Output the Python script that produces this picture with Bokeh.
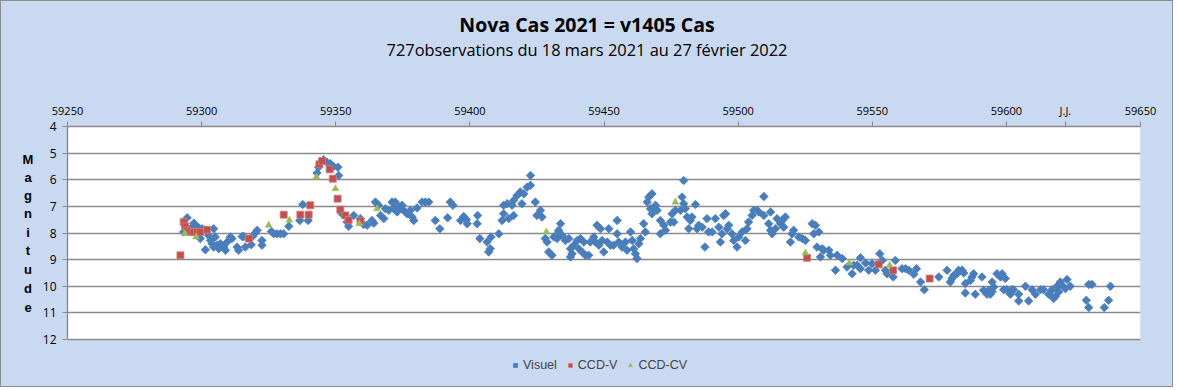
from bokeh.plotting import figure
from bokeh.models import (Range1d, Legend, LegendItem, FixedTicker, ColumnDataSource,
                          BoxAnnotation, Div)
from bokeh.layouts import column, row
from bokeh.embed import file_html
from bokeh.resources import INLINE

# ---------------- data (Julian Day, magnitude) ----------------
vis_jd_a = [59293.3, 59293.9, 59294.6, 59295.8, 59296.4, 59297.1, 59297.7, 59298.9,
            59300.2, 59301.4, 59299.5, 59301.4, 59302.6, 59303.3, 59303.9, 59304.5,
            59304.5, 59305.1, 59305.8, 59306.4, 59307.0, 59308.2, 59308.9, 59309.5,
            59310.7, 59311.3, 59313.2, 59313.8, 59315.1, 59315.7, 59316.3, 59318.5,
            59319.0, 59320.0, 59320.7, 59322.5, 59322.5, 59326.0, 59326.9, 59328.1,
            59329.4, 59330.6, 59332.5, 59336.6, 59337.7, 59339.7, 59343.0, 59343.6,
            59345.5, 59346.7, 59348.0, 59349.2, 59350.8, 59351.1, 59352.3, 59354.2,
            59354.8, 59356.7, 59359.2, 59360.4]
vis_mag_a = [7.96, 7.78, 7.43, 7.84, 7.96, 7.63, 7.71, 7.80,
             7.84, 7.90, 8.21, 8.63, 8.09, 8.28, 8.40, 7.84,
             8.53, 8.15, 8.46, 8.59, 8.40, 8.53, 8.65, 8.34,
             8.15, 8.21, 8.53, 8.65, 8.13, 8.13, 8.53, 8.44,
             8.13, 8.00, 7.90, 8.28, 8.46, 7.94, 8.03, 8.03,
             8.03, 8.03, 7.75, 7.53, 6.93, 7.53, 5.75, 5.53,
             5.25, 5.34, 5.40, 5.50, 5.53, 5.84, 7.28, 7.59,
             7.75, 7.34, 7.46, 7.68]

vis_jd_b = [59361.7, 59363.5, 59364.2, 59364.8, 59366.0, 59366.7, 59367.9, 59368.5,
            59369.8, 59371.0, 59371.6, 59372.2, 59372.9, 59373.5, 59374.7, 59375.3,
            59376.6, 59377.8, 59378.5, 59379.1, 59380.3, 59382.2, 59383.4, 59384.7,
            59387.1, 59388.8, 59391.7, 59392.7, 59393.7, 59396.5, 59397.7, 59398.7,
            59399.0, 59402.9, 59402.7, 59403.7, 59406.4, 59407.0, 59407.9, 59407.6,
            59410.8, 59412.0, 59412.6, 59412.6, 59413.9, 59414.5, 59415.7, 59416.3,
            59416.3, 59417.6, 59418.8, 59419.4, 59420.1, 59421.3, 59422.6, 59422.6,
            59424.4, 59425.0, 59426.3, 59426.9, 59428.1, 59428.8, 59429.4, 59430.6,
            59431.3, 59433.1]
vis_mag_b = [7.71, 7.53, 7.63, 6.84, 6.96, 7.34, 7.46, 7.09,
             7.15, 6.84, 7.09, 6.84, 7.21, 7.03, 6.96, 7.15,
             7.28, 7.15, 7.40, 7.53, 7.06, 6.84, 6.84, 6.84,
             7.53, 7.84, 7.43, 6.84, 6.96, 7.53, 7.38, 7.50,
             7.65, 7.34, 7.65, 8.21, 8.34, 8.71, 8.15, 8.59,
             8.03, 7.53, 7.28, 6.96, 6.90, 7.46, 6.96, 7.34,
             6.78, 6.59, 6.46, 6.90, 6.53, 6.28, 6.21, 5.84,
             6.84, 7.34, 7.15, 7.40, 8.21, 8.34, 8.71, 8.84,
             8.15, 7.96]

vis_jd_c = [59433.8, 59433.1, 59432.5, 59434.4, 59435.6, 59436.9, 59437.5, 59438.1,
            59437.5, 59438.7, 59440.0, 59440.6, 59441.2, 59441.8, 59442.5, 59443.1,
            59444.3, 59444.9, 59446.2, 59446.8, 59447.4, 59448.1, 59448.7, 59449.3,
            59449.9, 59451.2, 59451.8, 59452.4, 59453.6, 59454.9, 59454.9, 59455.5,
            59456.7, 59458.0, 59458.6, 59459.9, 59460.5, 59461.1, 59461.7, 59462.3,
            59463.0, 59463.6, 59464.8, 59465.4, 59466.1, 59466.7, 59467.9, 59467.3,
            59467.9, 59469.2, 59469.8, 59471.0, 59471.0, 59472.3, 59472.9, 59474.8,
            59475.4, 59476.0, 59476.6, 59478.5, 59479.1, 59479.7, 59479.7, 59480.3,
            59481.0, 59481.6, 59482.2, 59482.8, 59484.1, 59484.7, 59485.3, 59486.6,
            59487.6, 59488.4, 59489.0, 59490.3, 59491.5, 59492.8, 59493.4, 59494.0,
            59494.6, 59495.3, 59495.9, 59496.5, 59497.7, 59498.4, 59499.6, 59500.2,
            59501.5, 59502.7, 59503.3, 59503.9, 59505.2, 59505.8]
vis_mag_c = [7.65, 7.90, 8.21, 8.09, 8.28, 8.21, 8.59, 8.78,
             8.90, 8.46, 8.28, 8.59, 8.21, 8.71, 8.34, 8.84,
             8.84, 8.34, 8.15, 8.34, 7.71, 8.46, 7.84, 8.28,
             8.71, 8.34, 7.84, 8.46, 8.46, 7.53, 8.03, 8.34,
             8.53, 8.34, 8.65, 7.96, 8.28, 8.59, 8.78, 8.96,
             8.40, 8.21, 7.65, 7.96, 6.84, 6.65, 6.53, 7.09,
             7.28, 6.96, 7.15, 7.53, 8.03, 7.71, 7.90, 7.59,
             7.28, 7.59, 7.15, 7.15, 6.65, 6.03, 6.90, 7.09,
             7.40, 7.84, 7.53, 7.40, 6.93, 7.84, 7.71, 7.78,
             8.53, 7.46, 7.96, 7.96, 7.46, 7.78, 8.34, 8.03,
             7.34, 7.28, 7.84, 7.71, 8.03, 8.28, 8.53, 8.15,
             7.96, 8.28, 7.84, 7.59, 7.34, 7.15]

vis_jd_d = [59507.1, 59507.7, 59509.6, 59509.6, 59511.4, 59512.1, 59512.1, 59512.7,
            59513.9, 59514.5, 59515.8, 59516.4, 59517.0, 59517.6, 59519.5, 59520.1,
            59520.7, 59522.6, 59523.9, 59525.1, 59527.6, 59528.2, 59528.8, 59529.4,
            59530.1, 59530.7, 59531.3, 59531.9, 59533.8, 59534.4, 59536.3, 59536.9,
            59538.8, 59540.6, 59542.5, 59543.1, 59544.4, 59545.6, 59545.6, 59547.5,
            59548.7, 59549.9, 59551.2, 59552.8, 59553.7, 59554.9, 59555.5, 59557.8,
            59558.6, 59561.1, 59562.4, 59563.6, 59565.5, 59566.5, 59568.0, 59569.4,
            59574.8, 59577.9]
vis_mag_d = [7.15, 7.21, 6.63, 7.34, 7.65, 7.21, 7.90, 8.03,
             7.84, 7.46, 7.65, 7.53, 7.78, 7.40, 8.34, 8.03,
             7.90, 8.15, 8.21, 8.28, 7.65, 8.03, 7.71, 8.53,
             7.96, 8.90, 8.59, 8.65, 8.65, 8.84, 9.40, 8.84,
             8.96, 9.28, 9.53, 9.21, 9.21, 8.93, 9.34, 9.13,
             9.40, 9.15, 9.40, 8.78, 9.03, 9.40, 9.53, 9.65,
             9.03, 9.34, 9.34, 9.40, 9.55, 9.34, 9.84, 10.13,
             9.65, 9.40]

vis_jd_e = [59579.1, 59579.7, 59580.4, 59581.6, 59582.2, 59583.5, 59584.1, 59584.7,
            59584.7, 59586.6, 59587.2, 59587.8, 59588.4, 59590.9, 59591.5, 59592.8,
            59593.4, 59594.0, 59594.7, 59594.7, 59595.3, 59596.5, 59597.8, 59598.4,
            59599.0, 59599.6, 59600.2, 59600.9, 59601.5, 59602.1, 59602.7, 59604.6,
            59604.6, 59607.1, 59608.3, 59609.6, 59610.8, 59612.7, 59613.9, 59615.8,
            59617.0, 59617.6, 59618.3, 59618.9, 59619.5, 59620.1, 59620.7, 59622.0,
            59622.6, 59623.8, 59629.8, 59630.7, 59630.7, 59631.9, 59636.5, 59638.1,
            59638.8]
vis_mag_e = [9.84, 9.71, 9.59, 9.53, 9.40, 9.40, 9.50, 9.90,
             10.25, 9.78, 9.65, 9.53, 10.30, 9.65, 10.15, 10.30,
             10.15, 10.30, 9.84, 10.21, 10.03, 9.53, 9.65, 9.53,
             10.13, 9.71, 10.13, 10.21, 10.30, 10.13, 10.13, 10.30,
             10.55, 10.00, 10.55, 10.13, 10.30, 10.13, 10.13, 10.30,
             10.13, 10.46, 10.38, 10.00, 10.21, 9.84, 9.96, 10.09,
             9.75, 10.00, 10.53, 10.80, 9.93, 9.93, 10.80, 10.53,
             10.00]

ccdv_jd = [59292.1, 59293.3, 59293.9, 59294.6, 59295.8, 59297.0, 59298.3, 59299.5,
           59302.0, 59317.6, 59330.6, 59336.8, 59339.9, 59340.5, 59343.9, 59344.9,
           59347.7, 59348.9, 59350.7, 59351.7, 59353.6, 59354.8, 59359.2, 59525.7,
           59552.4, 59557.8, 59571.4]
ccdv_mag = [8.84, 7.59, 7.75, 7.90, 7.96, 7.96, 7.96, 7.96,
            7.88, 8.21, 7.31, 7.31, 7.31, 6.96, 5.42, 5.30,
            5.61, 5.96, 6.71, 7.12, 7.34, 7.52, 7.56, 8.93,
            9.18, 9.40, 9.71]

ccdcv_jd = [59293.7, 59297.9, 59325.0, 59332.7, 59342.8, 59349.9, 59358.8,
            59365.4, 59428.5, 59476.6, 59525.1, 59541.5, 59556.5]
ccdcv_mag = [8.02, 8.15, 7.71, 7.52, 5.90, 6.34, 7.65,
             7.09, 7.96, 6.84, 8.75, 9.13, 9.21]

x_ticks = [59250, 59300, 59350, 59400, 59450, 59500, 59550, 59600, 59650]
jj_tick = 59622
y_ticks = [4, 5, 6, 7, 8, 9, 10, 11, 12]
series_names = ["Visuel", "CCD-V", "CCD-CV"]
title_text = "Nova Cas 2021 = v1405 Cas"
subtitle_text = "727observations du 18 mars 2021 au 27 février 2022"
y_title = "Magnitude"

vis_jd = vis_jd_a + vis_jd_b + vis_jd_c + vis_jd_d + vis_jd_e
vis_mag = vis_mag_a + vis_mag_b + vis_mag_c + vis_mag_d + vis_mag_e

# ---------------- layout constants ----------------
BG = "#c9d9f1"
GRID = "#8a8a8a"
INNER_W = 1171
INNER_H = 385
TITLE_H = 85
LEFT_W = 33
FIG_W = INNER_W - LEFT_W
FIG_H = INNER_H - TITLE_H
TOP = 40
LEFT = 33
FRAME_W = 1073
PLOT_PX = 213                      # pixels between magnitude 4 and 12
px_per_mag = PLOT_PX / (y_ticks[-1] - y_ticks[0])
y_bottom = y_ticks[-1] + (FIG_H - TOP - PLOT_PX) / px_per_mag   # room for legend

# ---------------- figure ----------------
p = figure(width=FIG_W, height=FIG_H, output_backend="svg", toolbar_location=None,
           x_range=Range1d(x_ticks[0], x_ticks[-1]), y_range=Range1d(y_bottom, y_ticks[0]),
           x_axis_location="above",
           min_border_left=LEFT, min_border_right=FIG_W - LEFT - FRAME_W, min_border_top=TOP,
           min_border_bottom=0, margin=(0, 0, 0, 0))
p.border_fill_color = BG
p.background_fill_color = BG
p.outline_line_color = None

p.add_layout(BoxAnnotation(left=x_ticks[0], right=x_ticks[-1], top=y_ticks[0], bottom=y_ticks[-1],
                           fill_color="white", fill_alpha=1.0, line_color=None, level="image"))

p.xaxis.ticker = FixedTicker(ticks=x_ticks + [jj_tick])
p.xaxis.major_label_overrides = {jj_tick: "J.J."}
p.yaxis.ticker = FixedTicker(ticks=y_ticks)
p.yaxis.bounds = (y_ticks[0], y_ticks[-1])
p.ygrid.ticker = FixedTicker(ticks=y_ticks)
p.xgrid.visible = False
p.ygrid.grid_line_color = GRID
p.ygrid.grid_line_width = 1.4

for ax in (p.xaxis, p.yaxis):
    ax.axis_line_color = GRID
    ax.axis_line_width = 1.4
    ax.major_tick_line_color = GRID
    ax.major_tick_in = 0
    ax.major_tick_out = 5
    ax.minor_tick_line_color = None
    ax.major_label_text_color = "black"
    ax.major_label_text_font = "Open Sans"
    ax.major_label_text_font_size = "11px"
p.xaxis.major_label_standoff = 4
p.yaxis.major_label_standoff = 6
p.yaxis.major_label_text_font_size = "12px"

src_v = ColumnDataSource(dict(x=vis_jd, y=vis_mag))
src_r = ColumnDataSource(dict(x=ccdv_jd, y=ccdv_mag))
src_g = ColumnDataSource(dict(x=ccdcv_jd, y=ccdcv_mag))

r_vis = p.scatter("x", "y", source=src_v, marker="square", angle=0.785398, size=6,
                  fill_color="#4a7ebb", line_color="#4a7ebb", line_width=0.8)
r_ccdv = p.scatter("x", "y", source=src_r, marker="square", size=7,
                   fill_color="#c0504d", line_color="#d27d7b", line_width=0.8)
r_ccdcv = p.scatter("x", "y", source=src_g, marker="triangle", size=7,
                    fill_color="#9bbb59", line_color="#9bbb59", line_width=0.5)

legend = Legend(items=[LegendItem(label=series_names[0], renderers=[r_vis]),
                       LegendItem(label=series_names[1], renderers=[r_ccdv]),
                       LegendItem(label=series_names[2], renderers=[r_ccdcv])],
                orientation="horizontal", location=(443, 14),
                background_fill_alpha=0, border_line_color=None,
                padding=0, margin=0, spacing=8, glyph_width=10, glyph_height=14,
                label_standoff=3, label_height=14,
                label_text_font="Liberation Sans", label_text_font_size="12.5px")
p.add_layout(legend)

# ---------------- titles and stacked y title (HTML text) ----------------
title_html = (
    f'<div style="position:relative;width:{INNER_W}px;height:{TITLE_H}px;">'
    f'<div style="position:absolute;left:0;top:12px;width:1172px;text-align:center;'
    f'font-family:\'Open Sans\';font-weight:bold;font-size:19.5px;line-height:24px;color:black;">'
    f'{title_text}</div>'
    f'<div style="position:absolute;left:0;top:39px;width:1172px;text-align:center;'
    f'font-family:\'Open Sans\';font-size:16.4px;line-height:20px;color:black;">'
    f'{subtitle_text}</div></div>')
title_div = Div(text=title_html, width=INNER_W, height=TITLE_H, margin=(0, 0, 0, 0),
                styles={"background-color": BG})

letter_tops = [66, 84, 102, 120, 139, 157, 176, 195, 214]
letters_html = f'<div style="position:relative;width:{LEFT_W}px;height:{FIG_H}px;">'
for ch, t in zip(y_title, letter_tops):
    letters_html += (f'<div style="position:absolute;left:17px;top:{t}px;width:20px;'
                     f'text-align:center;font-family:\'Liberation Sans\';font-weight:bold;'
                     f'font-size:13px;line-height:16px;color:black;">{ch}</div>')
letters_html += '</div>'
letters_div = Div(text=letters_html, width=LEFT_W, height=FIG_H, margin=(0, 0, 0, 0),
                  styles={"background-color": BG})

layout = column(title_div, row(letters_div, p, spacing=0), spacing=0,
                styles={"background-color": BG, "border": "1px solid #8c8c8c"})
open("out.html", "w").write(file_html(layout, INLINE))
